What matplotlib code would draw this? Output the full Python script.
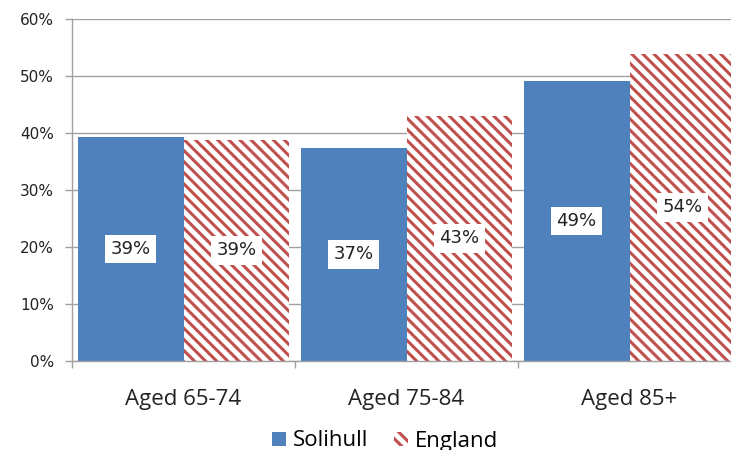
import numpy as np
import matplotlib.pyplot as plt
from matplotlib.ticker import PercentFormatter

categories = ['Aged 65-74', 'Aged 75-84', 'Aged 85+']
solihull = [39.3, 37.4, 49.1]
england = [38.8, 43.0, 53.9]
solihull_labels = ['39%', '37%', '49%']
england_labels = ['39%', '43%', '54%']

plt.rcParams['hatch.linewidth'] = 2.2

fig = plt.figure(figsize=(7.31, 4.5), dpi=100)
ax = fig.add_axes([72 / 731, 89 / 450, 669 / 731, 342 / 450])

x = np.arange(len(categories))
w = 0.475
b1 = ax.bar(x - w / 2, solihull, w, color='#4F81BD', linewidth=0, label='Solihull', zorder=2)
b2 = ax.bar(x + w / 2, england, w, facecolor='white', edgecolor='#C0504D', hatch='\\\\\\',
            linewidth=0, label='England', zorder=2)

for bars, labels in [(b1, solihull_labels), (b2, england_labels)]:
    for bar, lab in zip(bars, labels):
        ax.text(bar.get_x() + bar.get_width() / 2, bar.get_height() / 2, lab,
                ha='center', va='center', fontsize=13, color='#222222', family='DejaVu Sans',
                bbox=dict(boxstyle='square,pad=0.3', facecolor='white', edgecolor='none'),
                zorder=3)

ax.set_xlim(-0.5, 2.5)
ax.set_ylim(0, 60)
ax.set_yticks(range(0, 61, 10))
ax.yaxis.set_major_formatter(PercentFormatter(decimals=0))
ax.yaxis.grid(True, color='#A0A0A0', linewidth=1)
ax.set_axisbelow(True)

ax.set_xticks(x)
ax.set_xticklabels(categories, fontsize=16, family='Open Sans', color='#222222')
ax.set_xticks([-0.5, 0.5, 1.5, 2.5], minor=True)
ax.tick_params(axis='x', which='major', length=0, pad=20)
ax.tick_params(axis='x', which='minor', length=5, color='#A0A0A0', width=1)
ax.tick_params(axis='y', length=5, color='#A0A0A0', width=1, labelsize=11, pad=8,
               labelcolor='#222222')

for s in ['top', 'right']:
    ax.spines[s].set_visible(False)
for s in ['left', 'bottom']:
    ax.spines[s].set_color('#A0A0A0')
    ax.spines[s].set_linewidth(1)

fig.legend(handles=[b1, b2], loc='center', bbox_to_anchor=(385 / 731, 1 - 441 / 450), ncol=2,
           frameon=False, prop={'family': 'Open Sans', 'size': 16}, handlelength=0.6,
           handleheight=0.6, columnspacing=1.2, handletextpad=0.3)

fig.savefig('out.png', dpi=100)
